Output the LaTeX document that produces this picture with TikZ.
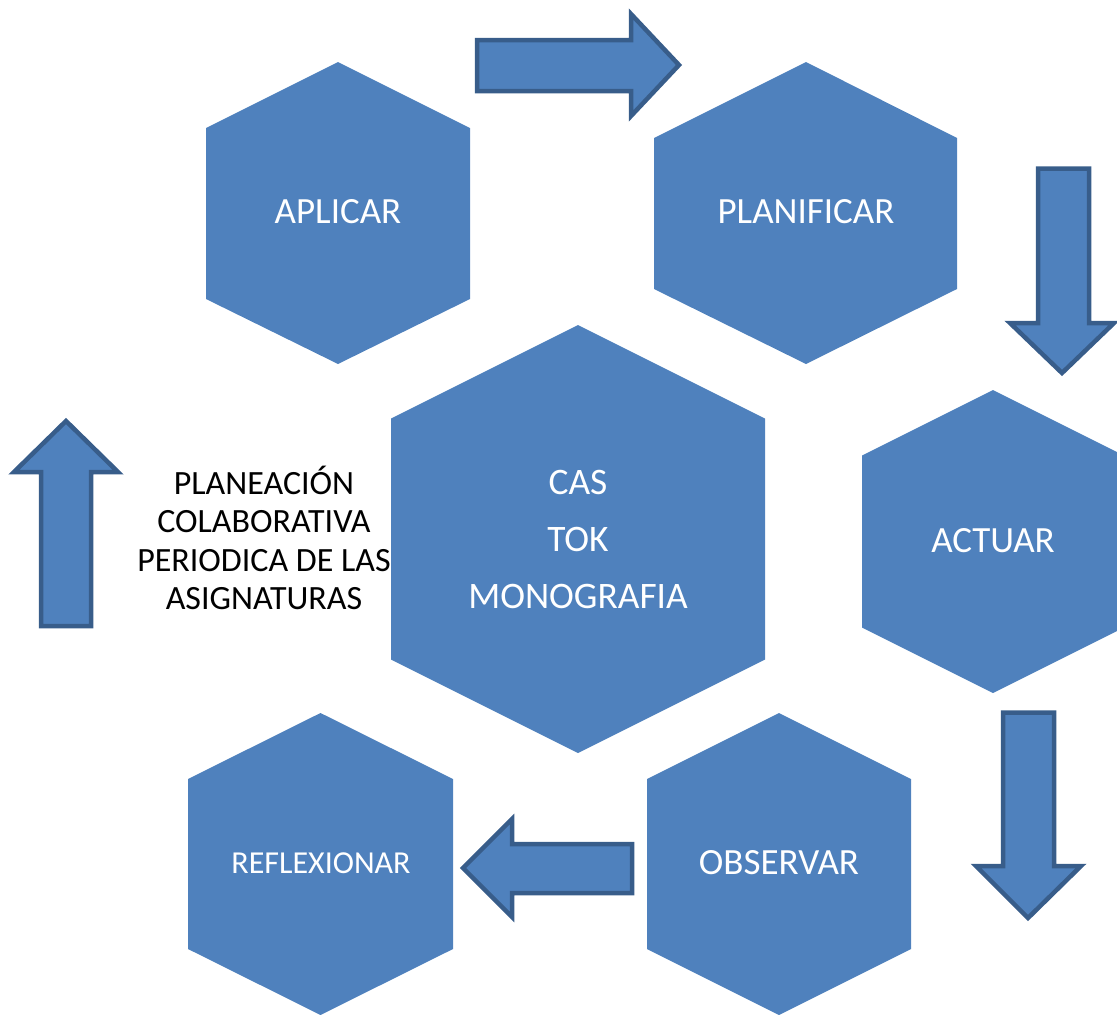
\documentclass[tikz,border=0pt]{standalone}
\usepackage{fontspec}
\setmainfont{Carlito}
\definecolor{hexblue}{HTML}{4F81BD}
\definecolor{arrowline}{HTML}{385D8A}
\begin{document}
\begin{tikzpicture}[x=1pt,y=-1pt,
  hexa/.style={fill=hexblue},
  blockarrow/.style={fill=hexblue, draw=arrowline, line width=4.5pt},
  hexlabel/.style={text=white, font=\fontsize{37}{43}\selectfont, inner sep=0pt, align=center},
  smalllabel/.style={text=white, font=\fontsize{32}{38}\selectfont, inner sep=0pt},
  centerlabel/.style={text=white, font=\fontsize{37.4}{57}\selectfont, inner sep=0pt, align=center},
  sidelabel/.style={text=black, font=\fontsize{34}{38.5}\selectfont, inner sep=0pt, align=center}]
\useasboundingbox (0,0) rectangle (1117,1015);

% hexagons
\path[hexa] (338,62) -- (470,128) -- (470,299) -- (338,364) -- (206,299) -- (206,128) -- cycle;
\path[hexa] (806,62) -- (957,138) -- (957,289) -- (806,364) -- (654,289) -- (654,138) -- cycle;
\path[hexa] (578,325) -- (765,418.5) -- (765,659.5) -- (578,753) -- (391,659.5) -- (391,418.5) -- cycle;
\path[hexa] (993,390) -- (1124,455.5) -- (1124,627.5) -- (993,693) -- (862,627.5) -- (862,455.5) -- cycle;
\path[hexa] (779,713) -- (911,779) -- (911,949) -- (779,1015) -- (647,949) -- (647,779) -- cycle;
\path[hexa] (320.5,713) -- (453,779) -- (453,949) -- (320.5,1015) -- (188,949) -- (188,779) -- cycle;

% block arrows
\draw[blockarrow] (477,40) -- (631,40) -- (631,14) -- (679,65) -- (631,116) -- (631,91) -- (477,91) -- cycle;
\draw[blockarrow] (1038,168.5) -- (1089,168.5) -- (1089,323) -- (1114,323) -- (1062,373) -- (1010,323) -- (1038,323) -- cycle;
\draw[blockarrow] (1003,712.5) -- (1054,712.5) -- (1054,866) -- (1081,866) -- (1028,918) -- (976,866) -- (1003,866) -- cycle;
\draw[blockarrow] (632,844) -- (512,844) -- (512,819) -- (463,868) -- (512,917) -- (512,893) -- (632,893) -- cycle;
\draw[blockarrow] (41,626) -- (41,472) -- (14,472) -- (66,421) -- (118,472) -- (91,472) -- (91,626) -- cycle;

% labels
\node[hexlabel] (aplicar) at (338,212) {APLICAR};
\node[hexlabel] (planificar) at (806,212) {PLANIFICAR};
\node[hexlabel] (actuar) at (993,541) {ACTUAR};
\node[hexlabel] (observar) at (779,863) {OBSERVAR};
\node[smalllabel] (reflexionar) at (321,863) {REFLEXIONAR};
\node[centerlabel] (core) at (578,539) {CAS\\TOK\\MONOGRAFIA};
\node[sidelabel] (planeacion) at (264,538) {PLANEACIÓN\\COLABORATIVA\\PERIODICA DE LAS\\ASIGNATURAS};
\end{tikzpicture}
\end{document}
